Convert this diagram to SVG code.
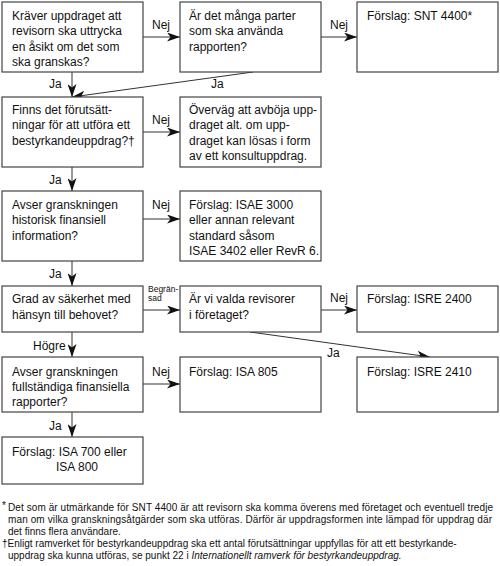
<svg xmlns="http://www.w3.org/2000/svg" width="500" height="566" viewBox="0 0 500 566">
<style>
.box{fill:#fff;stroke:#444;stroke-width:1.2}
.t{font-family:"Liberation Sans",Arial,sans-serif;font-size:12px;fill:#111}
.s{font-family:"Liberation Sans",Arial,sans-serif;font-size:8.5px;fill:#111}
.f{font-family:"Liberation Sans",Arial,sans-serif;font-size:10px;fill:#111}
.c{stroke:#333;stroke-width:1;fill:none;marker-end:url(#ah)}
</style>
<defs>
<marker id="ah" markerUnits="userSpaceOnUse" markerWidth="14" markerHeight="9" refX="13" refY="4.5" orient="auto">
<path d="M0,0 L13,4.5 L0,9 L3.5,4.5 z" fill="#111"/>
</marker>
</defs>
<rect width="500" height="566" fill="#fff"/>
<g id="connectors">
<line class="c" x1="143" y1="37" x2="180" y2="37"/>
<line class="c" x1="321" y1="37" x2="357" y2="37"/>
<line class="c" x1="72" y1="72" x2="72" y2="97"/>
<line class="c" x1="253" y1="72" x2="72" y2="97"/>
<line class="c" x1="143" y1="132" x2="180" y2="132"/>
<line class="c" x1="72" y1="167" x2="72" y2="191"/>
<line class="c" x1="143" y1="219" x2="180" y2="219"/>
<line class="c" x1="72" y1="261" x2="72" y2="286"/>
<line class="c" x1="143" y1="310" x2="180" y2="310"/>
<line class="c" x1="321" y1="310" x2="357" y2="310"/>
<line class="c" x1="250" y1="332" x2="430" y2="357"/>
<line class="c" x1="72" y1="332" x2="72" y2="357"/>
<line class="c" x1="143" y1="384" x2="180" y2="384"/>
<line class="c" x1="72" y1="412" x2="72" y2="437"/>
<text class="t" x="152" y="29">Nej</text>
<text class="t" x="330" y="29">Nej</text>
<text class="t" x="49" y="88">Ja</text>
<text class="t" x="211" y="88">Ja</text>
<text class="t" x="152" y="124">Nej</text>
<text class="t" x="49" y="184">Ja</text>
<text class="t" x="152" y="209">Nej</text>
<text class="t" x="49" y="278">Ja</text>
<text class="s" x="148" y="292">Begrän-</text>
<text class="s" x="148" y="301">sad</text>
<text class="t" x="330" y="302">Nej</text>
<text class="t" x="327" y="357">Ja</text>
<text class="t" x="33" y="350">Högre</text>
<text class="t" x="152" y="376">Nej</text>
<text class="t" x="49" y="430">Ja</text>
</g>
<g id="n1"><rect class="box" x="2" y="2" width="141" height="70"/>
<text class="t" x="12" y="20">Kräver uppdraget att</text>
<text class="t" x="12" y="35.3">revisorn ska uttrycka</text>
<text class="t" x="12" y="50.6">en åsikt om det som</text>
<text class="t" x="12" y="66">ska granskas?</text></g>
<g id="n2"><rect class="box" x="180" y="2" width="141" height="70"/>
<text class="t" x="189" y="20">Är det många parter</text>
<text class="t" x="189" y="35.3">som ska använda</text>
<text class="t" x="189" y="50.6">rapporten?</text></g>
<g id="n3"><rect class="box" x="357" y="2" width="141" height="70"/>
<text class="t" x="367" y="20">Förslag: SNT 4400*</text></g>
<g id="n4"><rect class="box" x="2" y="97" width="141" height="70"/>
<text class="t" x="12" y="114">Finns det förutsätt-</text>
<text class="t" x="12" y="129.3">ningar för att utföra ett</text>
<text class="t" x="12" y="144.6">bestyrkandeuppdrag?†</text></g>
<g id="n5"><rect class="box" x="180" y="97" width="141" height="70"/>
<text class="t" x="189" y="114">Överväg att avböja upp-</text>
<text class="t" x="189" y="129.3">draget alt. om upp-</text>
<text class="t" x="189" y="144.6">draget kan lösas i form</text>
<text class="t" x="189" y="160">av ett konsultuppdrag.</text></g>
<g id="n6"><rect class="box" x="2" y="191" width="141" height="70"/>
<text class="t" x="12" y="209">Avser granskningen</text>
<text class="t" x="12" y="224.3">historisk finansiell</text>
<text class="t" x="12" y="239.6">information?</text></g>
<g id="n7"><rect class="box" x="180" y="191" width="141" height="70"/>
<text class="t" x="189" y="209">Förslag: ISAE 3000</text>
<text class="t" x="189" y="224.3">eller annan relevant</text>
<text class="t" x="189" y="239.6">standard såsom</text>
<text class="t" x="189" y="255">ISAE 3402 eller RevR 6.</text></g>
<g id="n8"><rect class="box" x="2" y="286" width="141" height="46"/>
<text class="t" x="12" y="303">Grad av säkerhet med</text>
<text class="t" x="12" y="318.5">hänsyn till behovet?</text></g>
<g id="n9"><rect class="box" x="180" y="286" width="141" height="46"/>
<text class="t" x="189" y="303">Är vi valda revisorer</text>
<text class="t" x="189" y="318.5">i företaget?</text></g>
<g id="n10"><rect class="box" x="357" y="286" width="141" height="46"/>
<text class="t" x="367" y="303">Förslag: ISRE 2400</text></g>
<g id="n11"><rect class="box" x="2" y="357" width="141" height="55"/>
<text class="t" x="12" y="376">Avser granskningen</text>
<text class="t" x="12" y="391">fullständiga finansiella</text>
<text class="t" x="12" y="406">rapporter?</text></g>
<g id="n12"><rect class="box" x="180" y="357" width="141" height="55"/>
<text class="t" x="189" y="376">Förslag: ISA 805</text></g>
<g id="n13"><rect class="box" x="357" y="357" width="141" height="55"/>
<text class="t" x="367" y="376">Förslag: ISRE 2410</text></g>
<g id="n14"><rect class="box" x="2" y="437" width="141" height="47"/>
<text class="t" x="12" y="456">Förslag: ISA 700 eller</text>
<text class="t" x="56" y="470.5">ISA 800</text></g>
<g id="footnotes">
<text class="f" x="2" y="509" font-size="8">*</text>
<text class="f" x="8" y="511" textLength="485" lengthAdjust="spacing">Det som är utmärkande för SNT 4400 är att revisorn ska komma överens med företaget och eventuell tredje</text>
<text class="f" x="8" y="523" textLength="484" lengthAdjust="spacing">man om vilka granskningsåtgärder som ska utföras. Därför är uppdragsformen inte lämpad för uppdrag där</text>
<text class="f" x="8" y="535">det finns flera användare.</text>
<text class="f" x="2" y="547">†Enligt ramverket för bestyrkandeuppdrag ska ett antal förutsättningar uppfyllas för att ett bestyrkande-</text>
<text class="f" x="8" y="559">uppdrag ska kunna utföras, se punkt 22 i <tspan font-style="italic">Internationellt ramverk för bestyrkandeuppdrag.</tspan></text>
</g>
</svg>
